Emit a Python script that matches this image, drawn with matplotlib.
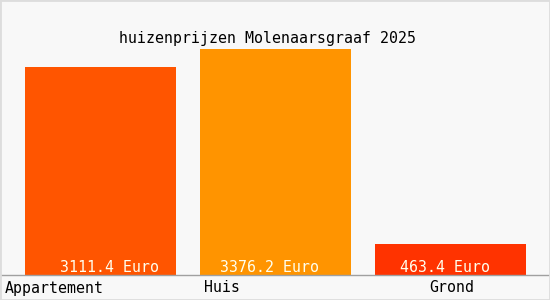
import matplotlib
matplotlib.use("Agg")
import matplotlib.pyplot as plt

categories = ["Appartement", "Huis", "Grond"]
values = [3111.4, 3376.2, 463.4]
colors = ["#FF5500", "#FF9400", "#FF3300"]
value_labels = ["3111.4 Euro", "3376.2 Euro", "463.4 Euro"]
title = "huizenprijzen Molenaarsgraaf 2025"

W, H = 550, 300
fig = plt.figure(figsize=(5.5, 3), dpi=100, facecolor="#F8F8F8")

# axes in pixel layout: baseline at y=275, top of tallest bar at y=49
ax = fig.add_axes([0, (H - 275) / H, 1, (275 - 49) / H])
ax.set_facecolor("#F8F8F8")
ax.set_xlim(0, W)
ax.set_ylim(0, max(values))

lefts = [25, 200, 375]
width = 151
ax.bar(lefts, values, width=width, align="edge", color=colors)

fs = 10.7
label_x = [60, 220, 400]
for x, lab in zip(label_x, value_labels):
    ax.text(x, 0, lab, ha="left", va="bottom",
            color="#FFFFEE", family="DejaVu Sans Mono", fontsize=fs)

for s in ax.spines.values():
    s.set_visible(False)
ax.axhline(0, color="#A0A0A0", lw=1, clip_on=False)
ax.set_xticks([])
ax.set_yticks([])

mono = dict(family="DejaVu Sans Mono", fontsize=fs, color="black")
cat_x = [5, 204, 429]
for x, c in zip(cat_x, categories):
    fig.text(x / W, 1 - 288 / H, c, ha="left", va="center", **mono)
fig.text(267.5 / W, 1 - 38 / H, title, ha="center", va="center", **mono)

# light border around the image
fig.patches.append(plt.Rectangle((0, 0), 1, 1, transform=fig.transFigure,
                                 fill=False, edgecolor="#DDDDDD", lw=2))

fig.savefig("out.png", dpi=100, facecolor=fig.get_facecolor())
